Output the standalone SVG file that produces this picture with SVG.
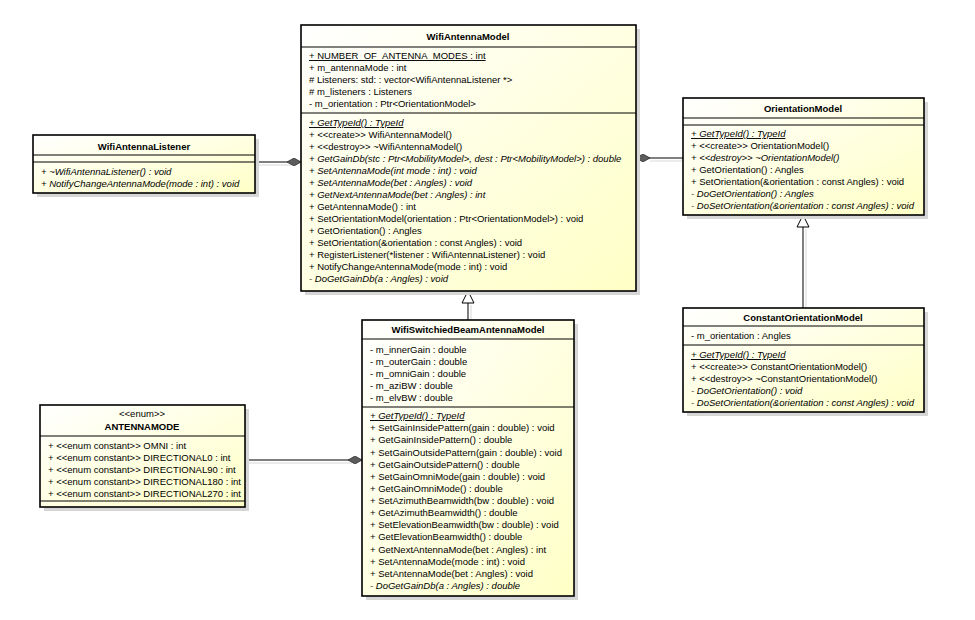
<svg xmlns="http://www.w3.org/2000/svg" width="975" height="620" viewBox="0 0 975 620">
<defs>
<linearGradient id="fill" x1="0" y1="0" x2="1" y2="1">
<stop offset="0" stop-color="#FFFFFF"/>
<stop offset="1" stop-color="#FFFFC6"/>
</linearGradient>
<marker id="diamond" markerUnits="userSpaceOnUse" viewBox="0 0 14 8" refX="14" refY="4" markerWidth="14" markerHeight="8" orient="auto">
<path d="M0,4 L7,0 L14,4 L7,8 Z" fill="#5c5c5c" stroke="#333" stroke-width="0.8"/>
</marker>
<marker id="tri" markerUnits="userSpaceOnUse" viewBox="0 0 14 14" refX="13" refY="7" markerWidth="14" markerHeight="14" orient="auto">
<path d="M1,1 L13,7 L1,13 Z" fill="#fff" stroke="#000" stroke-width="1"/>
</marker>
</defs>
<style>
.box{fill:url(#fill);stroke:#000;stroke-width:1.6}
.shadow{fill:#d6d6d6}
.sep{stroke:#000;stroke-width:1}
text{font-family:"Liberation Sans",Arial,sans-serif;font-size:9.5px;fill:#000}
.title{font-weight:bold;text-anchor:middle}
.it{font-style:italic}
.u{text-decoration:underline}
.con{stroke:#000;stroke-width:1;fill:none}
.cs{stroke:#d8d8d8;stroke-width:1;fill:none}
</style>
<rect width="975" height="620" fill="#fff"/>

<g id="connectors">
<line class="cs" x1="259" y1="165" x2="292" y2="165"/>
<line class="cs" x1="650" y1="161" x2="686" y2="161"/>
<line class="cs" x1="248" y1="463" x2="352" y2="463"/>
<line class="cs" x1="471" y1="305" x2="471" y2="323"/>
<line class="cs" x1="806" y1="229" x2="806" y2="311"/>
<line class="con" x1="256" y1="162" x2="301" y2="162" marker-end="url(#diamond)"/>
<line class="con" x1="683" y1="158" x2="636" y2="158" marker-end="url(#diamond)"/>
<line class="con" x1="245" y1="460" x2="362" y2="460" marker-end="url(#diamond)"/>
<line class="con" x1="468" y1="320" x2="468" y2="291" marker-end="url(#tri)"/>
<line class="con" x1="803" y1="308" x2="803" y2="215" marker-end="url(#tri)"/>
</g>

<g id="WifiAntennaModel">
<rect class="shadow" x="305" y="29" width="335" height="266"/>
<rect class="box" x="301" y="25" width="335" height="266"/>
<text class="title" x="468" y="40">WifiAntennaModel</text>
<line class="sep" x1="301" y1="47" x2="636" y2="47"/>
<text x="309" y="59" class="u">+ NUMBER_OF_ANTENNA_MODES : int</text>
<text x="309" y="71">+ m_antennaMode : int</text>
<text x="309" y="83"># Listeners: std: : vector&lt;WifiAntennaListener *&gt;</text>
<text x="309" y="95"># m_listeners : Listeners</text>
<text x="309" y="107">- m_orientation : Ptr&lt;OrientationModel&gt;</text>
<line class="sep" x1="301" y1="113" x2="636" y2="113"/>
<text x="309" y="126" class="it u">+ GetTypeId() : TypeId</text>
<text x="309" y="138">+ &lt;&lt;create&gt;&gt; WifiAntennaModel()</text>
<text x="309" y="150">+ &lt;&lt;destroy&gt;&gt; ~WifiAntennaModel()</text>
<text x="309" y="162" class="it">+ GetGainDb(stc : Ptr&lt;MobilityModel&gt;, dest : Ptr&lt;MobilityModel&gt;) : double</text>
<text x="309" y="174" class="it">+ SetAntennaMode(int mode : int) : void</text>
<text x="309" y="186" class="it">+ SetAntennaMode(bet : Angles) : void</text>
<text x="309" y="198" class="it">+ GetNextAntennaMode(bet : Angles) : int</text>
<text x="309" y="210">+ GetAntennaMode() : int</text>
<text x="309" y="222">+ SetOrientationModel(orientation : Ptr&lt;OrientationModel&gt;) : void</text>
<text x="309" y="234">+ GetOrientation() : Angles</text>
<text x="309" y="246">+ SetOrientation(&amp;orientation : const Angles) : void</text>
<text x="309" y="258">+ RegisterListener(*listener : WifiAntennaListener) : void</text>
<text x="309" y="270">+ NotifyChangeAntennaMode(mode : int) : void</text>
<text x="309" y="282" class="it">- DoGetGainDb(a : Angles) : void</text>
</g>

<g id="OrientationModel">
<rect class="shadow" x="687" y="102" width="241" height="117"/>
<rect class="box" x="683" y="98" width="241" height="117"/>
<text class="title" x="803" y="112">OrientationModel</text>
<line class="sep" x1="683" y1="118" x2="924" y2="118"/>
<line class="sep" x1="683" y1="125" x2="924" y2="125"/>
<text x="691" y="137" class="it u">+ GetTypeId() : TypeId</text>
<text x="691" y="149">+ &lt;&lt;create&gt;&gt; OrientationModel()</text>
<text x="691" y="161" class="it">+ &lt;&lt;destroy&gt;&gt; ~OrientationModel()</text>
<text x="691" y="173">+ GetOrientation() : Angles</text>
<text x="691" y="185">+ SetOrientation(&amp;orientation : const Angles) : void</text>
<text x="691" y="197" class="it">- DoGetOrientation() : Angles</text>
<text x="691" y="209" class="it">- DoSetOrientation(&amp;orientation : const Angles) : void</text>
</g>

<g id="ConstantOrientationModel">
<rect class="shadow" x="687" y="312" width="241" height="104"/>
<rect class="box" x="683" y="308" width="241" height="104"/>
<text class="title" x="803" y="321">ConstantOrientationModel</text>
<line class="sep" x1="683" y1="326" x2="924" y2="326"/>
<text x="691" y="339">- m_orientation : Angles</text>
<line class="sep" x1="683" y1="345" x2="924" y2="345"/>
<text x="691" y="358" class="it u">+ GetTypeId() : TypeId</text>
<text x="691" y="370">+ &lt;&lt;create&gt;&gt; ConstantOrientationModel()</text>
<text x="691" y="382">+ &lt;&lt;destroy&gt;&gt; ~ConstantOrientationModel()</text>
<text x="691" y="394" class="it">- DoGetOrientation() : void</text>
<text x="691" y="406" class="it">- DoSetOrientation(&amp;orientation : const Angles) : void</text>
</g>

<g id="WifiAntennaListener">
<rect class="shadow" x="37" y="139" width="222" height="58"/>
<rect class="box" x="33" y="135" width="222" height="58"/>
<text class="title" x="144" y="150">WifiAntennaListener</text>
<line class="sep" x1="33" y1="155" x2="255" y2="155"/>
<line class="sep" x1="33" y1="162" x2="255" y2="162"/>
<text x="41" y="175" class="it">+ ~WifiAntennaListener() : void</text>
<text x="41" y="187" class="it">+ NotifyChangeAntennaMode(mode : int) : void</text>
</g>

<g id="WifiSwitchiedBeamAntennaModel">
<rect class="shadow" x="366" y="324" width="212" height="276"/>
<rect class="box" x="362" y="320" width="212" height="276"/>
<text class="title" x="468" y="333">WifiSwitchiedBeamAntennaModel</text>
<line class="sep" x1="362" y1="339" x2="574" y2="339"/>
<text x="370" y="353">- m_innerGain : double</text>
<text x="370" y="365">- m_outerGain : double</text>
<text x="370" y="377">- m_omniGain : double</text>
<text x="370" y="389">- m_aziBW : double</text>
<text x="370" y="401">- m_elvBW : double</text>
<line class="sep" x1="362" y1="407" x2="574" y2="407"/>
<text x="370" y="419" class="it u">+ GetTypeId() : TypeId</text>
<text x="370" y="431">+ SetGainInsidePattern(gain : double) : void</text>
<text x="370" y="443">+ GetGainInsidePattern() : double</text>
<text x="370" y="456">+ SetGainOutsidePattern(gain : double) : void</text>
<text x="370" y="468">+ GetGainOutsidePattern() : double</text>
<text x="370" y="480">+ SetGainOmniMode(gain : double) : void</text>
<text x="370" y="492">+ GetGainOmniMode() : double</text>
<text x="370" y="504">+ SetAzimuthBeamwidth(bw : double) : void</text>
<text x="370" y="516">+ GetAzimuthBeamwidth() : double</text>
<text x="370" y="528">+ SetElevationBeamwidth(bw : double) : void</text>
<text x="370" y="540">+ GetElevationBeamwidth() : double</text>
<text x="370" y="553">+ GetNextAntennaMode(bet : Angles) : int</text>
<text x="370" y="565">+ SetAntennaMode(mode : int) : void</text>
<text x="370" y="577">+ SetAntennaMode(bet : Angles) : void</text>
<text x="370" y="589" class="it">- DoGetGainDb(a : Angles) : double</text>
</g>

<g id="ANTENNAMODE">
<rect class="shadow" x="44" y="409" width="205" height="102"/>
<rect class="box" x="40" y="405" width="205" height="102"/>
<text x="142" y="417" style="text-anchor:middle">&lt;&lt;enum&gt;&gt;</text>
<text class="title" x="142" y="430">ANTENNAMODE</text>
<line class="sep" x1="40" y1="436" x2="245" y2="436"/>
<text x="48" y="449">+ &lt;&lt;enum constant&gt;&gt; OMNI : int</text>
<text x="48" y="461">+ &lt;&lt;enum constant&gt;&gt; DIRECTIONAL0 : int</text>
<text x="48" y="473">+ &lt;&lt;enum constant&gt;&gt; DIRECTIONAL90 : int</text>
<text x="48" y="485">+ &lt;&lt;enum constant&gt;&gt; DIRECTIONAL180 : int</text>
<text x="48" y="497">+ &lt;&lt;enum constant&gt;&gt; DIRECTIONAL270 : int</text>
<line class="sep" x1="40" y1="501" x2="245" y2="501"/>
</g>
</svg>
